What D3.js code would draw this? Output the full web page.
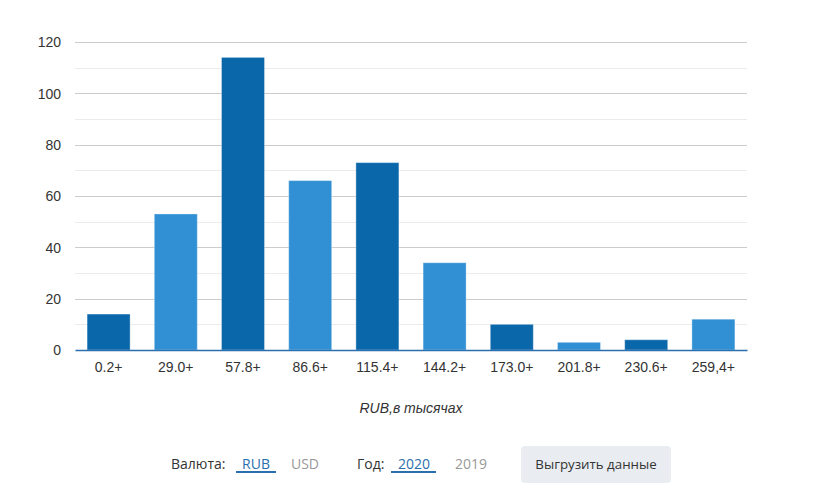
<!DOCTYPE html>
<html><head><meta charset="utf-8">
<script src="https://cdn.jsdelivr.net/npm/d3@7/dist/d3.min.js"></script>
<style>
body{margin:0;background:#fff;}
svg{display:block;}
</style></head>
<body>
<svg id="c" width="818" height="499"></svg>
<script>
const categories = ["0.2+","29.0+","57.8+","86.6+","115.4+","144.2+","173.0+","201.8+","230.6+","259,4+"];
const values = [14,53,114,66,73,34,10,3,4,12];
const yTicks = [0,20,40,60,80,100,120];
const minorTicks = [10,30,50,70,90,110];
const barColors = ["#0a67aa","#3190d4"];
const axisTitle = "RUB,в тысячах";

const svg = d3.select("#c");
const m = {l:75, r:747, t:42, b:350};
const x = d3.scaleBand().domain(categories).range([m.l, m.r]).paddingInner(0.36).paddingOuter(0.18);
const y = d3.scaleLinear().domain([0,120]).range([m.b, m.t]);
const af = "'Liberation Sans', Arial, sans-serif";

// minor grid
svg.append("g").selectAll("line").data(minorTicks).join("line")
  .attr("x1", m.l).attr("x2", m.r)
  .attr("y1", d=>Math.round(y(d))+0.5).attr("y2", d=>Math.round(y(d))+0.5)
  .attr("stroke","#ebebeb").attr("stroke-width",1);
// major grid
svg.append("g").selectAll("line").data(yTicks.filter(d=>d>0)).join("line")
  .attr("x1", m.l).attr("x2", m.r)
  .attr("y1", d=>Math.round(y(d))+0.5).attr("y2", d=>Math.round(y(d))+0.5)
  .attr("stroke","#cccccc").attr("stroke-width",1);

// y labels
const yAxis = d3.axisLeft(y).tickValues(yTicks).tickSize(0).tickPadding(0);
const ya = svg.append("g").attr("transform",`translate(61,0)`).call(yAxis);
ya.select(".domain").remove();
ya.selectAll("text").attr("font-family",af).attr("font-size",14).attr("fill","#333").attr("dy","0.35em");

// bars
svg.append("g").selectAll("rect").data(values).join("rect")
  .attr("x",(d,i)=>x(categories[i])).attr("width",x.bandwidth())
  .attr("y",d=>y(d)).attr("height",d=>y(0)-y(d))
  .attr("fill",(d,i)=>barColors[i%2])
  .attr("stroke","#ffffff").attr("stroke-opacity",0.35).attr("stroke-width",1);

// x axis
const xAxis = d3.axisBottom(x).tickSize(0).tickPadding(12);
const xa = svg.append("g").attr("transform",`translate(0,${m.b})`).call(xAxis);
xa.select(".domain").attr("stroke","#2b6fae").attr("stroke-width",1.5);
xa.selectAll("text").attr("font-family",af).attr("font-size",14).attr("fill","#333");

svg.append("text").attr("x",(m.l+m.r)/2).attr("y",413).attr("text-anchor","middle")
  .attr("font-family",af).attr("font-size",14).attr("font-style","italic").attr("fill","#333")
  .text(axisTitle);

// controls
const cf = "'Open Sans', 'Noto Sans', sans-serif";
function t(xp, s, col, anchor, fs){ return svg.append("text").attr("x",xp).attr("y",469).attr("font-family",cf).attr("font-size",fs||14).attr("fill",col).attr("text-anchor",anchor||"start").text(s); }
t(171,"Валюта:","#333");
t(256,"RUB","#2b6fae","middle");
t(305,"USD","#999","middle");
t(357,"Год:","#333");
t(414,"2020","#2b6fae","middle");
t(471,"2019","#999","middle");
svg.append("rect").attr("x",236).attr("y",471).attr("width",40).attr("height",2).attr("fill","#2b6fae");
svg.append("rect").attr("x",391).attr("y",471).attr("width",45).attr("height",2).attr("fill","#2b6fae");
svg.append("rect").attr("x",521).attr("y",446).attr("width",150).attr("height",37).attr("rx",4).attr("fill","#e9edf1");
t(596,"Выгрузить данные","#333","middle",13.3);
</script>
</body></html>
